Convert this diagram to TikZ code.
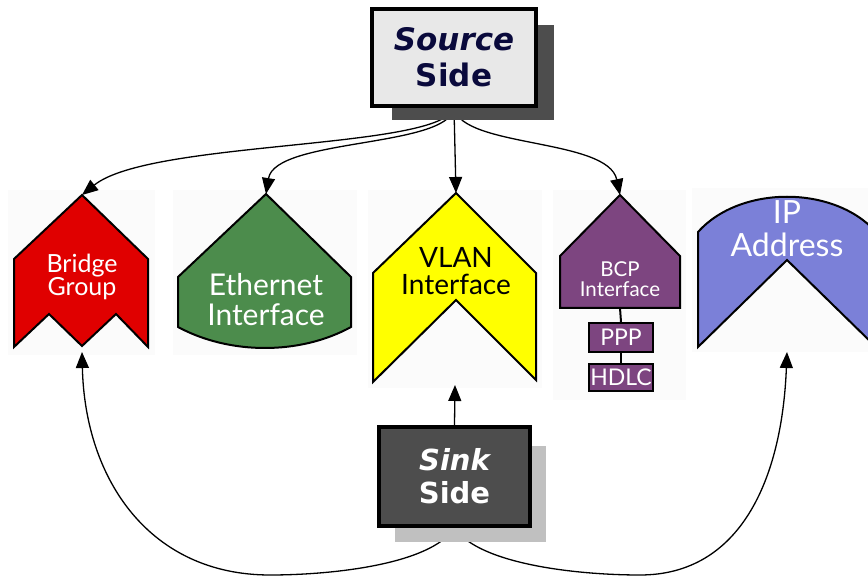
\documentclass[tikz,border=0pt]{standalone}
\usepackage{fontspec}
\setmainfont{Lato}
\newfontfamily\boxfont{DejaVu Sans}
\usetikzlibrary{arrows.meta}
\definecolor{bgred}{HTML}{E00000}
\definecolor{ethgreen}{HTML}{4C8C4C}
\definecolor{vlyellow}{HTML}{FFFF00}
\definecolor{bcppurple}{HTML}{7D4580}
\definecolor{ipblue}{HTML}{7B80D8}
\definecolor{srcfill}{HTML}{E8E8E8}
\definecolor{srctext}{HTML}{0A0A3C}
\definecolor{srcshadow}{HTML}{4D4D4D}
\definecolor{sinkfill}{HTML}{4D4D4D}
\definecolor{sinkshadow}{HTML}{C0C0C0}
\definecolor{faint}{HTML}{FBFBFB}
\tikzset{
  shapeline/.style={draw=black, line width=2pt, line join=miter},
  conn/.style={draw=black, line width=1.3pt, -{Triangle[length=16pt,width=13pt]}},
  lbl/.style={align=center, inner sep=0pt},
  sidebox/.style={draw=black, line width=4pt, align=center, inner sep=0pt},
  smallbox/.style={draw=black, line width=2pt, fill=bcppurple, text=white, inner sep=0pt,
    minimum width=64pt, font=\fontsize{23pt}{23pt}\selectfont},
}
\begin{document}
\begin{tikzpicture}[x=1pt,y=-1pt]
\useasboundingbox (0,0) rectangle (868,577);
\fill[white] (0,0) rectangle (868,577);
% faint backgrounds behind the shapes
\fill[faint] (8,190) rectangle (155,355);
\fill[faint] (173,190) rectangle (357,355);
\fill[faint] (368,190) rectangle (542,388);
\fill[faint] (553,190) rectangle (686,400);
\fill[faint] (692,188) rectangle (868,352);

% named points on the shapes
\coordinate (bg-top) at (82,195);
\coordinate (bg-bot) at (82,352);
\coordinate (eth-top) at (266,194);
\coordinate (vl-top) at (456,193);
\coordinate (vl-bot) at (455,385);
\coordinate (bcp-top) at (620,195);
\coordinate (bcp-bot) at (620,308);
\coordinate (ip-bot) at (787,352);

% source side box (placed first so connectors can use its anchors)
\node[sidebox, fill=srcfill, minimum width=164pt, minimum height=97pt,
  text=srctext, font=\boxfont\fontsize{31pt}{36pt}\selectfont\bfseries] (src) at (454,57.5)
  {\itshape Source\\Side};

% connectors from the source side
\draw[conn] (src.south) .. controls (440,150) and (150,140) .. (bg-top);
\draw[conn] (src.south) .. controls (448,148) and (275,138) .. (eth-top);
\draw[conn] (src.south) -- (vl-top);
\draw[conn] (src.south) .. controls (462,148) and (608,138) .. (bcp-top);

% sink side box
\node[sidebox, fill=sinkfill, minimum width=151pt, minimum height=99pt,
  text=white, font=\boxfont\fontsize{29pt}{33pt}\selectfont\bfseries] (sink) at (454.5,476.5)
  {\itshape Sink\\Side};

% connectors from the sink side
\draw[conn] (sink.north) -- (vl-bot);
\draw[conn] (sink.south) .. controls (430,565) and (330,575) .. (270,575)
  .. controls (150,575) and (85,480) .. (bg-bot);
\draw[conn] (sink.south) .. controls (480,565) and (580,575) .. (640,575)
  .. controls (740,575) and (782,480) .. (ip-bot);

% shadows, then boxes redrawn on top
\fill[srcshadow] (392,25) rectangle (554,120);
\fill[sinkshadow] (395,446) rectangle (546,542);
\node[sidebox, fill=srcfill, minimum width=164pt, minimum height=97pt,
  text=srctext, font=\boxfont\fontsize{31pt}{36pt}\selectfont\bfseries] (srcfront) at (src)
  {\itshape Source\\Side};
\node[sidebox, fill=sinkfill, minimum width=151pt, minimum height=99pt,
  text=white, font=\boxfont\fontsize{29pt}{33pt}\selectfont\bfseries] (sinkfront) at (sink)
  {\itshape Sink\\Side};

% Bridge Group
\draw[shapeline, fill=bgred] (bg-top) -- (148,259) -- (148,347) -- (116,314) -- (82,346)
  -- (49,314) -- (14,347) -- (14,259) -- cycle;
\node[lbl, text=white, font=\fontsize{25pt}{23pt}\selectfont] (bg) at (82,277) {Bridge\\Group};

% Ethernet Interface
\draw[shapeline, fill=ethgreen] (eth-top) -- (351,277) -- (351,327)
  .. controls (300,355) and (230,355) .. (178,327) -- (178,277) -- cycle;
\node[lbl, text=white, font=\fontsize{30pt}{30pt}\selectfont] (eth) at (266,300) {Ethernet\\Interface};

% VLAN Interface
\draw[shapeline, fill=vlyellow] (vl-top) -- (536,273) -- (536,380) -- (456,300)
  -- (373,382) -- (373,273) -- cycle;
\node[lbl, text=black, font=\fontsize{28pt}{27pt}\selectfont] (vl) at (456,271) {VLAN\\Interface};

% BCP Interface
\draw[shapeline, fill=bcppurple] (bcp-top) -- (680,256) -- (680,308) -- (560,308)
  -- (560,256) -- cycle;
\node[lbl, text=white, font=\fontsize{20.5pt}{20pt}\selectfont] (bcp) at (620,279) {BCP\\Interface};
\node[smallbox, minimum height=29pt] (ppp) at (621,337.5) {PPP};
\node[smallbox, minimum height=27pt] (hdlc) at (621,377.5) {HDLC};
\draw[line width=2pt] (bcp-bot) -- (ppp.north);
\draw[line width=2pt] (ppp.south) -- (hdlc.north);

% IP Address
\begin{scope}
\clip (0,0) rectangle (868,577);
\draw[shapeline, fill=ipblue] (698,232) .. controls (740,185) and (834,185) .. (876,232)
  -- (876,347) -- (787,260) -- (698,347) -- cycle;
\end{scope}
\node[lbl, text=white, font=\fontsize{32pt}{33pt}\selectfont] (ip) at (787,229) {IP\\Address};
\end{tikzpicture}
\end{document}
